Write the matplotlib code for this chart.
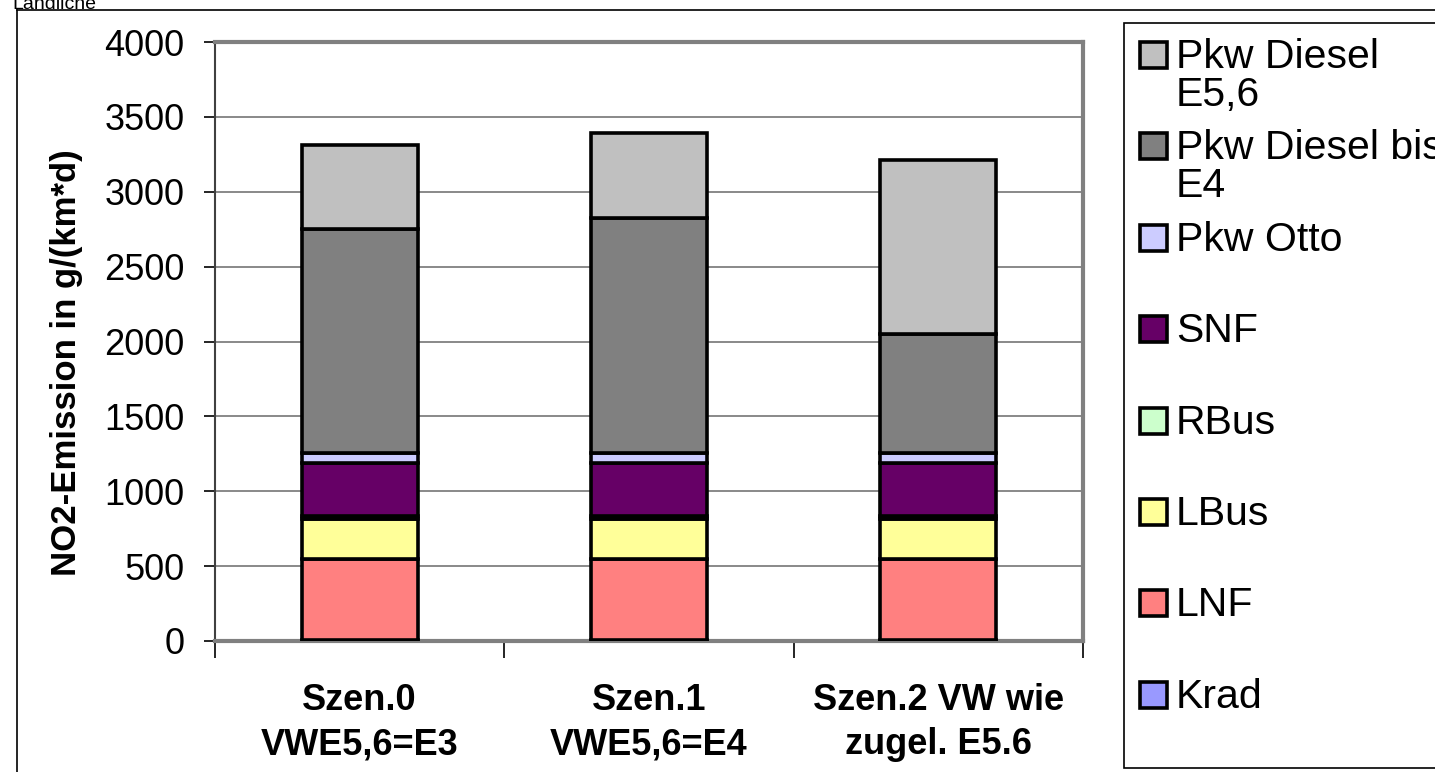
import matplotlib.pyplot as plt
from matplotlib.patches import Rectangle
from matplotlib.lines import Line2D
import numpy as np

plt.rcParams["font.family"] = ["Liberation Sans", "DejaVu Sans"]

scenarios = ["Szen.0\nVWE5,6=E3", "Szen.1\nVWE5,6=E4", "Szen.2 VW wie\nzugel. E5.6"]

# stacked from bottom to top
series = ["Krad", "LNF", "LBus", "RBus", "SNF", "Pkw Otto",
          "Pkw Diesel bis\nE4", "Pkw Diesel\nE5,6"]
krad = [5, 5, 5]
lnf = [540, 540, 540]
lbus = [270, 270, 270]
rbus = [20, 20, 20]
snf = [355, 355, 355]
pkw_otto = [65, 65, 65]
diesel_bis_e4 = [1495, 1570, 795]
diesel_e56 = [560, 565, 1160]
values = [krad, lnf, lbus, rbus, snf, pkw_otto, diesel_bis_e4, diesel_e56]
colors = ["#9999FF", "#FF8080", "#FFFF99", "#CCFFCC", "#660066",
          "#CCCCFF", "#808080", "#C0C0C0"]

yticks = np.arange(0, 4001, 500)

W, H = 1435, 772
fig = plt.figure(figsize=(W / 100, H / 100), dpi=100)
ax = fig.add_axes([215 / W, 1 - 641 / H, (1083 - 215) / W, (641 - 42) / H])

x = np.arange(len(scenarios))
bottom = np.zeros(len(scenarios))
for vals, col in zip(values, colors):
    ax.bar(x, vals, width=0.4, bottom=bottom, color=col, edgecolor="black",
           linewidth=2.6, zorder=3)
    bottom += np.array(vals)

ax.set_xlim(-0.5, 2.5)
ax.set_ylim(0, 4000)
ax.set_yticks(yticks)
ax.set_yticklabels([str(v) for v in yticks], fontsize=26)
ax.yaxis.grid(True, color="#808080", linewidth=1.3, zorder=0)
ax.tick_params(axis="y", length=8, width=1.2, pad=14)

# category labels between boundary ticks
ax.set_xticks([-0.5, 0.5, 1.5, 2.5])
ax.set_xticklabels([])
ax.tick_params(axis="x", direction="out", length=12, width=1.2)
ax.set_xticks(x, minor=True)
ax.set_xticklabels(scenarios, minor=True, fontsize=26, fontweight="bold",
                   linespacing=1.35)
ax.tick_params(axis="x", which="minor", length=0, pad=30)

for side in ["top", "right"]:
    ax.spines[side].set_color("#808080")
    ax.spines[side].set_linewidth(3)
ax.spines["left"].set_color("#404040")
ax.spines["left"].set_linewidth(1.5)
ax.spines["bottom"].set_color("#808080")
ax.spines["bottom"].set_linewidth(3)

ax.set_ylabel("NO2-Emission in g/(km*d)", fontsize=25, fontweight="bold")
ax.yaxis.set_label_coords(-132 / 868, 0.465)

# legend box drawn by hand (Excel-style equal spacing)
fig.patches.append(Rectangle((1124 / W, 1 - 768 / H), (W - 1124 + 5) / W,
                             (768 - 23) / H, transform=fig.transFigure,
                             facecolor="white", edgecolor="black",
                             linewidth=1.2))
y0, dy = 55, 91.4
for i, (name, col) in enumerate(zip(series[::-1], colors[::-1])):
    yc = y0 + i * dy
    fig.patches.append(Rectangle((1140 / W, 1 - (yc + 13) / H), 27 / W, 26 / H,
                                 transform=fig.transFigure, facecolor=col,
                                 edgecolor="black", linewidth=2.6))
    fig.text(1176 / W, 1 - (yc - 17) / H, name, fontsize=29.5, va="top",
             ha="left", linespacing=1.0)

# outer frame pieces from the source sheet
fig.add_artist(Line2D([17 / W, 1], [1 - 10 / H, 1 - 10 / H],
                      transform=fig.transFigure, color="black", linewidth=1.2))
fig.add_artist(Line2D([17 / W, 17 / W], [0, 1 - 10 / H],
                      transform=fig.transFigure, color="black", linewidth=1.2))
fig.text(12 / W, 1 - 9 / H, "Ländliche", fontsize=14, va="baseline",
         ha="left")

fig.savefig("out.png", dpi=100)
